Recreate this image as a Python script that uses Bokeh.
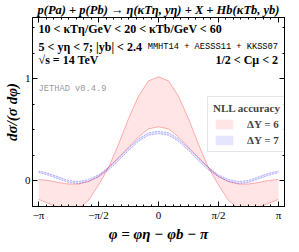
import numpy as np
from bokeh.plotting import figure
from bokeh.models import FixedTicker, LinearAxis, Range1d, Label, Legend, LegendItem
from bokeh.embed import file_html
from bokeh.resources import INLINE

# ---- data, phi = k*pi/12, k = -12..12 ----
k_steps = list(range(-12, 13))
phi = [k * np.pi / 12 for k in k_steps]

# half curves for k = 0..12 (distribution is symmetric in phi)
dy6_edge_a_half = [1.02, 0.98, 0.83, 0.61, 0.36, 0.13, -0.04, -0.19, -0.27, -0.30, -0.26, -0.22, -0.18]
dy6_edge_b_half = [0.53, 0.51, 0.43, 0.33, 0.23, 0.13, 0.045, -0.005, -0.03, -0.03, -0.015, 0.005, 0.015]
dy7_up_half = [0.487, 0.472, 0.412, 0.322, 0.222, 0.132, 0.060, 0.015, -0.005, 0.005, 0.040, 0.075, 0.098]
dy7_lo_half = [0.463, 0.448, 0.388, 0.298, 0.198, 0.108, 0.040, -0.005, -0.025, -0.015, 0.020, 0.055, 0.082]

def mirror(h):
    return h[::-1] + h[1:]

dy6_a = mirror(dy6_edge_a_half)
dy6_b = mirror(dy6_edge_b_half)
dy7_up = mirror(dy7_up_half)
dy7_lo = mirror(dy7_lo_half)

x_ticks = [-np.pi, -np.pi / 2, 0.0, np.pi / 2, np.pi]
x_tick_labels = ["\u2212\u03c0", "\u2212\u03c0/2", "0", "\u03c0/2", "\u03c0"]
y_ticks = [0, 1]
y_minor = [-0.25, 0.25, 0.5, 0.75, 1.25, 1.5]

SERIF = "Liberation Serif"
MONO = "Liberation Mono"

p = figure(width=291, height=244, x_range=Range1d(-3.3, 3.3), y_range=Range1d(-0.25, 1.6),
           output_backend="svg", toolbar_location=None,
           min_border_left=10, min_border_right=7, min_border_bottom=10, min_border_top=0)
p.title.text = "p(Pa) + p(Pb) \u2192 \u03b7(\u03baT\u03b7, y\u03b7) + X + Hb(\u03baTb, yb)"
p.title.text_font = SERIF
p.title.text_font_style = "bold italic"
p.title.text_font_size = "12.5px"
p.title.text_color = "black"
p.title.align = "center"
p.title.standoff = 1
p.title.offset = 0
p.outline_line_color = "black"
p.outline_line_width = 1
p.grid.visible = False
p.background_fill_color = "white"
p.border_fill_color = "white"

xt = FixedTicker(ticks=x_ticks, minor_ticks=[k * np.pi / 16 for k in range(-16, 17)])
yt = FixedTicker(ticks=y_ticks, minor_ticks=y_minor)

def style_axis(ax):
    ax.major_tick_in = 5
    ax.major_tick_out = 0
    ax.minor_tick_in = 2
    ax.minor_tick_out = 0
    ax.axis_line_color = "black"
    ax.major_tick_line_color = "black"
    ax.minor_tick_line_color = "black"
    ax.major_label_text_font = SERIF
    ax.major_label_text_font_size = "11px"
    ax.major_label_text_color = "black"
    ax.major_label_standoff = 2
    ax.axis_label_text_font = SERIF
    ax.axis_label_text_font_size = "15px"
    ax.axis_label_text_font_style = "bold italic"
    ax.axis_label_text_color = "black"
    ax.axis_label_standoff = 2

xa = p.xaxis[0]
xa.ticker = xt
xa.major_label_overrides = {t: l for t, l in zip(x_ticks, x_tick_labels)}
xa.axis_label = "\u03c6 = \u03c6\u03b7 \u2212 \u03c6b \u2212 \u03c0"
style_axis(xa)
ya = p.yaxis[0]
ya.ticker = yt
ya.axis_label = "d\u03c3/(\u03c3 d\u03c6)"
style_axis(ya)
ya.major_label_orientation = "horizontal"

top_ax = LinearAxis(ticker=xt)
style_axis(top_ax)
top_ax.major_label_overrides = {t: "" for t in x_ticks}
top_ax.major_label_text_font_size = "1px"
top_ax.major_label_standoff = 0
p.add_layout(top_ax, "above")
right_ax = LinearAxis(ticker=yt)
style_axis(right_ax)
right_ax.major_label_overrides = {t: "" for t in y_ticks}
right_ax.major_label_text_font_size = "1px"
right_ax.major_label_standoff = 0
p.add_layout(right_ax, "right")

band6 = p.varea(x=phi, y1=dy6_a, y2=dy6_b, fill_color="#ff0000", fill_alpha=0.1)
p.line(phi, dy6_a, line_color="#ff0000", line_alpha=0.3, line_width=1)
p.line(phi, dy6_b, line_color="#ff0000", line_alpha=0.3, line_width=1)
band7 = p.varea(x=phi, y1=dy7_up, y2=dy7_lo, fill_color="#0000ff", fill_alpha=0.1)
p.line(phi, dy7_up, line_color="#0000ff", line_alpha=0.28, line_width=1, line_dash="2 1")
p.line(phi, dy7_lo, line_color="#0000ff", line_alpha=0.28, line_width=1, line_dash="2 1")

def lab(x, y, text, font=SERIF, size="12px", style="bold", align="left", color="black"):
    p.add_layout(Label(x=x, y=y, text=text, text_font=font, text_font_size=size,
                       text_font_style=style, text_align=align, text_baseline="middle",
                       text_color=color))

lab(-3.14, 1.486, "10 < \u03baT\u03b7/GeV < 20 < \u03baTb/GeV < 60")
lab(-3.14, 1.315, "5 < y\u03b7 < 7;  |yb| < 2.4")
lab(3.13, 1.315, "MMHT14 + AESSS11 + KKSS07", font=MONO, size="8.7px", style="normal", align="right")
lab(-3.14, 1.183, "\u221as = 14 TeV")
lab(3.13, 1.183, "1/2 < C\u03bc < 2", align="right")
lab(-3.14, 0.898, "JETHAD v0.4.9", font=MONO, size="8.7px", style="normal", color="#999999")

legend = Legend(items=[LegendItem(label="\u0394Y = 6", renderers=[band6]),
                       LegendItem(label="\u0394Y = 7", renderers=[band7])],
                title="NLL accuracy", location=(175, 54))
legend.title_text_font = SERIF
legend.title_text_font_size = "11px"
legend.title_text_font_style = "bold"
legend.title_standoff = 4
legend.label_text_font = SERIF
legend.label_text_font_size = "11px"
legend.label_text_font_style = "bold"
legend.glyph_width = 22
legend.glyph_height = 12
legend.label_standoff = 12
legend.spacing = 4
legend.padding = 5
legend.margin = 0
legend.border_line_color = "#cccccc"
legend.background_fill_alpha = 0.85
p.add_layout(legend, "center")

open("out.html", "w").write(file_html(p, INLINE))
